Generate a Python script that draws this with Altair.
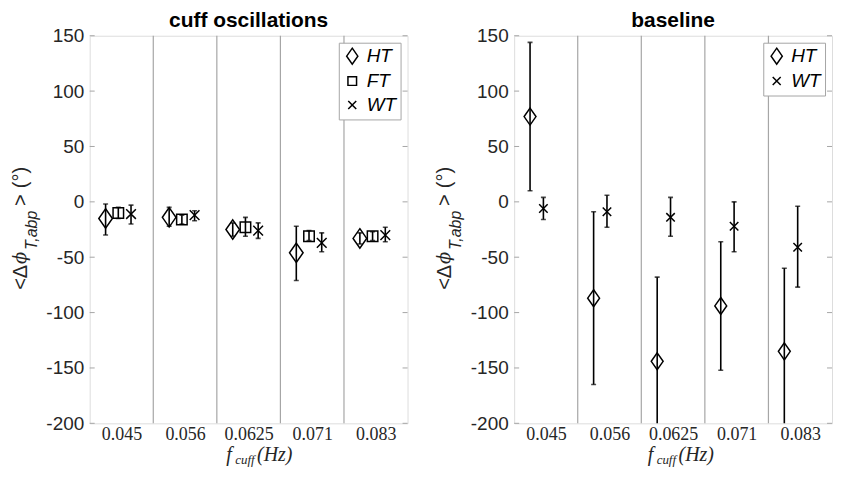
import altair as alt
import pandas as pd

# ---------------- data ----------------
freq_labels = ["0.045", "0.056", "0.0625", "0.071", "0.083"]
groups_cuff = ["HT", "FT", "WT"]
groups_base = ["HT", "WT"]
tick_values = [-200, -150, -100, -50, 0, 50, 100, 150]
separators = [1.5, 2.5, 3.5, 4.5]

# cuff oscillations panel
cuff_ht_mean = [-15, -14, -25, -46, -33]
cuff_ht_lo = [-30, -22, -31, -71, -38]
cuff_ht_hi = [-2, -5, -19, -22, -28]
cuff_ft_mean = [-10, -16, -23, -31, -31]
cuff_ft_lo = [-15, -20, -31, -35, -35]
cuff_ft_hi = [-5, -12, -14, -26, -27]
cuff_wt_mean = [-11, -12, -26, -37, -30]
cuff_wt_lo = [-20, -17, -33, -45, -36]
cuff_wt_hi = [-3, -8, -19, -28, -23]

# baseline panel
base_ht_mean = [77, -87, -144, -94, -135]
base_ht_lo = [10, -165, -225, -152, -215]
base_ht_hi = [144, -9, -68, -36, -60]
base_wt_mean = [-6, -9, -14, -22, -41]
base_wt_lo = [-16, -23, -31, -45, -77]
base_wt_hi = [4, 6, 4, 0, -4]

# ---------------- layout / style ----------------
H = 389
W = 319
dodge_cuff = {"HT": -0.25, "FT": -0.05, "WT": 0.15}
dodge_base = {"HT": -0.25, "WT": -0.04}
SHAPES = {
    "HT": "M0,-1L0.7,0L0,1L-0.7,0Z",
    "FT": "M-0.54,-0.54L0.54,-0.54L0.54,0.54L-0.54,0.54Z",
    "WT": "M-0.5,-0.5L0.5,0.5M-0.5,0.5L0.5,-0.5",
}
GRAY = "#a6a6a6"
TXT = "#262626"


def make_df(series, dodge):
    rows = []
    for g, (mean, lo, hi) in series.items():
        for i in range(len(freq_labels)):
            rows.append({"x": i + 1 + dodge[g], "group": g,
                         "mean": mean[i], "lo": lo[i], "hi": hi[i]})
    return pd.DataFrame(rows)


xscale = alt.Scale(domain=[0.5, 5.5], nice=False, zero=False)
yscale = alt.Scale(domain=[-200, 150], nice=False, zero=False)
label_expr = "[" + ",".join(f"'{l}'" for l in freq_labels) + "][datum.value - 1]"
xaxis = alt.Axis(values=[1, 2, 3, 4, 5], labelExpr=label_expr, title=None, ticks=False,
                 domain=False, grid=False, labelFont="Liberation Serif", labelFontSize=18,
                 labelColor=TXT, labelPadding=2, labelFlush=False)
yaxis = alt.Axis(values=tick_values, labelExpr="datum.value + ''", title=None,
                 ticks=False, domain=False, grid=False, labelFont="Liberation Sans",
                 labelFontSize=19, labelColor=TXT, labelPadding=6)


def X(f):
    return alt.X(f, scale=xscale, axis=xaxis)


def Y(f):
    return alt.Y(f, scale=yscale, axis=yaxis)


def txt(text, x, y, size=20, font="Liberation Sans", style="normal", angle=0,
        baseline="alphabetic", align="left", weight="normal", color=TXT):
    return alt.Chart(pd.DataFrame({"t": [text]})).mark_text(
        text=text, font=font, fontSize=size, fontStyle=style, fontWeight=weight,
        angle=angle, align=align, baseline=baseline, color=color
    ).encode(x=alt.value(x), y=alt.value(y))


def panel(df, groups, title, xt, msize):
    seps = alt.Chart(pd.DataFrame({"b": separators})).mark_rule(
        color=GRAY, strokeWidth=1.2).encode(x=X("b:Q"), y=alt.value(0), y2=alt.value(H))
    tdf = pd.DataFrame({"v": tick_values})
    ticks_l = alt.Chart(tdf).mark_rule(color=GRAY, strokeWidth=1).encode(
        y=Y("v:Q"), x=alt.value(0), x2=alt.value(5))
    ticks_r = alt.Chart(tdf).mark_rule(color=GRAY, strokeWidth=1).encode(
        y=Y("v:Q"), x=alt.value(W - 5), x2=alt.value(W))
    base = alt.Chart(df)
    bars = base.mark_rule(color="black", strokeWidth=1.6, clip=True).encode(
        x=X("x:Q"), y=Y("lo:Q"), y2="hi:Q")
    caps = base.transform_fold(["lo", "hi"], as_=["end", "val"]).mark_tick(
        orient="horizontal", size=5, thickness=1.6, color="black", clip=True
    ).encode(x=X("x:Q"), y=Y("val:Q"))
    pts = base.mark_point(filled=False, size=msize, strokeWidth=1.5, color="black",
                          opacity=1).encode(
        x=X("x:Q"), y=Y("mean:Q"),
        shape=alt.Shape("group:N",
                        scale=alt.Scale(domain=groups, range=[SHAPES[g] for g in groups]),
                        legend=alt.Legend(title=None, orient="top-right", offset=7,
                                          padding=4, strokeColor=GRAY, fillColor="white",
                                          labelFont="Liberation Sans",
                                          labelFontStyle="italic", labelFontSize=19,
                                          labelColor="black", symbolSize=256,
                                          symbolStrokeWidth=1.5,
                                          symbolStrokeColor="black",
                                          symbolFillColor="transparent",
                                          labelOffset=5, rowPadding=4)))
    head = txt(title, W / 2, -9, size=21, weight="bold", align="center", color="black")
    # axis titles built from pieces (sub-scripts)
    ytitle = [
        txt("<Δ", -69, 255, angle=270, baseline="middle"),
        txt("ϕ", -69, 229, size=18, font="DejaVu Serif", style="italic", angle=270,
            baseline="middle"),
        txt("T,abp", -58, 215, size=16, style="italic", angle=270, baseline="middle"),
        txt(">", -69, 171, angle=270, baseline="middle"),
        txt("(°)", -69, 153, angle=270, baseline="middle"),
    ]
    xtitle = [
        txt("f", xt, H + 38, size=20, font="Liberation Serif", style="italic"),
        txt("cuff", xt + 9, H + 41, size=13, font="Liberation Serif", style="italic"),
        txt("(Hz)", xt + 31, H + 38, size=20, font="Liberation Serif", style="italic"),
    ]
    return alt.layer(seps, ticks_l, ticks_r, bars, caps, pts, head, *ytitle,
                     *xtitle).properties(width=W, height=H)


df_cuff = make_df({"HT": (cuff_ht_mean, cuff_ht_lo, cuff_ht_hi),
                   "FT": (cuff_ft_mean, cuff_ft_lo, cuff_ft_hi),
                   "WT": (cuff_wt_mean, cuff_wt_lo, cuff_wt_hi)}, dodge_cuff)
df_base = make_df({"HT": (base_ht_mean, base_ht_lo, base_ht_hi),
                   "WT": (base_wt_mean, base_wt_lo, base_wt_hi)}, dodge_base)

chart = alt.hconcat(
    panel(df_cuff, groups_cuff, "cuff oscillations", 137, 380),
    panel(df_base, groups_base, "baseline", 134, 290),
    spacing=26,
).resolve_scale(shape="independent").resolve_legend(shape="independent").properties(
    padding={"left": 2, "top": 0, "right": 0, "bottom": 0}
).configure_view(stroke=GRAY, strokeWidth=1).configure(background="white")

chart.save("out.html", embed_options={"renderer": "svg", "actions": False})
